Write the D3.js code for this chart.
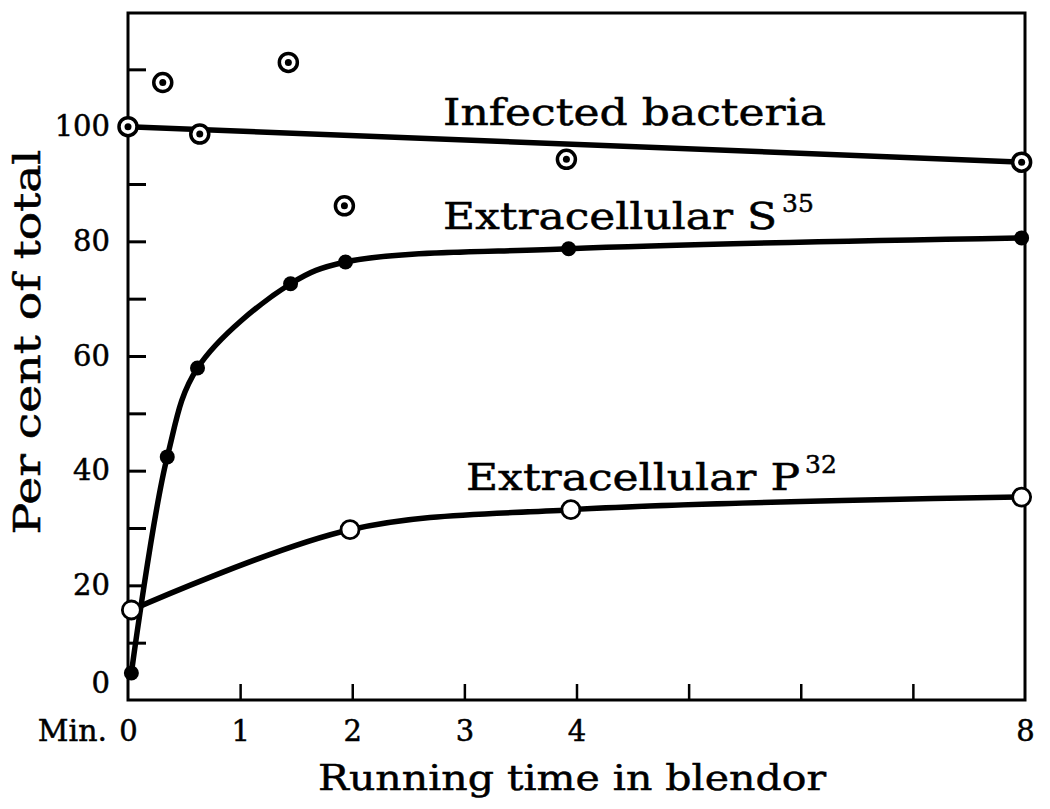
<!DOCTYPE html>
<html>
<head>
<meta charset="utf-8">
<script src="https://cdn.jsdelivr.net/npm/d3@7"></script>
<style>
  body { margin: 0; background: #fff; }
  text { font-family: "DejaVu Serif", serif; fill: #000; stroke: #000; stroke-width: 0.5px; }
</style>
</head>
<body>
<div id="chart"></div>
<script>
// values: minutes in blendor, per cent of total
var infectedTime = [0, 0.31, 0.64, 1.43, 1.93, 3.91, 7.97],
    infectedPct  = [100, 107.7, 98.7, 111.2, 86.2, 94.3, 93.8];
var infectedFitTime = [0, 8],
    infectedFitPct  = [100, 93.8];
var s35Time = [0.03, 0.35, 0.62, 1.45, 1.94, 3.93, 7.97],
    s35Pct  = [4.7, 42.4, 57.9, 72.6, 76.4, 78.7, 80.6];
var p32Time = [0.03, 1.98, 3.95, 7.97],
    p32Pct  = [15.7, 29.7, 33.2, 35.4];

var xTicks = [1, 2, 3, 4, 5, 6, 7],
    xTickLabels = [0, 1, 2, 3, 4, 8];
var yTicks = [10, 20, 30, 40, 50, 60, 70, 80, 90, 100, 110],
    yTickLabels = [0, 20, 40, 60, 80, 100];

var W = 1050, H = 809;
var margin = { top: 13, right: 25, bottom: 109, left: 128 };

function zip(a, b) { return a.map(function(d, i) { return [d, b[i]]; }); }
function translation(x, y) { return 'translate(' + x + ',' + y + ')'; }

var x = d3.scaleLinear().domain([0, 8]).range([margin.left, W - margin.right]);
var y = d3.scaleLinear().domain([0, 120]).range([H - margin.bottom, 12]);

var svg = d3.select('#chart').append('svg')
    .attr('width', W)
    .attr('height', H);

// frame
svg.append('rect')
    .attr('x', x(0)).attr('y', margin.top)
    .attr('width', x(8) - x(0)).attr('height', y(0) - margin.top)
    .attr('fill', 'none').attr('stroke', '#000').attr('stroke-width', 3);

// inward ticks
var xTickAxis = svg.append('g')
    .attr('transform', translation(0, y(0)))
    .call(d3.axisTop(x).tickValues(xTicks).tickSize(16).tickFormat(''));
xTickAxis.select('.domain').remove();
xTickAxis.selectAll('line').attr('stroke-width', 2.5);

var yTickAxis = svg.append('g')
    .attr('transform', translation(x(0), 0))
    .call(d3.axisRight(y).tickValues(yTicks).tickSize(18).tickFormat(''));
yTickAxis.select('.domain').remove();
yTickAxis.selectAll('line').attr('stroke-width', 3);

// tick labels
var xLab = svg.append('g')
    .attr('transform', translation(0, y(0)))
    .call(d3.axisBottom(x).tickValues(xTickLabels).tickSize(0).tickPadding(20).tickFormat(d3.format('d')));
xLab.select('.domain').remove();
xLab.selectAll('text').style('font-size', '29px').style('font-family', '"DejaVu Serif", serif');

var yLab = svg.append('g')
    .attr('transform', translation(x(0), 0))
    .call(d3.axisLeft(y).tickValues(yTickLabels).tickSize(0).tickPadding(18).tickFormat(d3.format('d')));
yLab.select('.domain').remove();
yLab.selectAll('text').style('font-size', '29px').style('font-family', '"DejaVu Serif", serif');
yLab.selectAll('.tick').filter(function(d) { return d === 0; })
    .select('text').attr('y', -17);

svg.append('text')
    .attr('x', 107).attr('y', y(0) + 41)
    .attr('text-anchor', 'end')
    .style('font-size', '30px')
    .text('Min.');

// axis titles
svg.append('text')
    .attr('x', 572).attr('y', 790)
    .attr('text-anchor', 'middle')
    .attr('textLength', 508).attr('lengthAdjust', 'spacingAndGlyphs')
    .style('font-size', '36px')
    .text('Running time in blendor');

svg.append('text')
    .attr('transform', translation(40, 342) + ' rotate(-90)')
    .attr('text-anchor', 'middle')
    .attr('textLength', 385).attr('lengthAdjust', 'spacingAndGlyphs')
    .style('font-size', '37px')
    .text('Per cent of total');

// curves
var line = d3.line()
    .x(function(d) { return x(d[0]); })
    .y(function(d) { return y(d[1]); });
var smooth = d3.line()
    .x(function(d) { return x(d[0]); })
    .y(function(d) { return y(d[1]); })
    .curve(d3.curveCatmullRom.alpha(0.5));

svg.append('path')
    .attr('d', line(zip(infectedFitTime, infectedFitPct)))
    .attr('fill', 'none').attr('stroke', '#000').attr('stroke-width', 5.5);
svg.append('path')
    .attr('d', smooth(zip(s35Time, s35Pct)))
    .attr('fill', 'none').attr('stroke', '#000').attr('stroke-width', 5.5);
svg.append('path')
    .attr('d', smooth(zip(p32Time, p32Pct)))
    .attr('fill', 'none').attr('stroke', '#000').attr('stroke-width', 5.5);

// markers
var inf = svg.append('g').selectAll('g')
    .data(zip(infectedTime, infectedPct))
    .enter().append('g')
    .attr('transform', function(d) { return translation(x(d[0]), y(d[1])); });
inf.append('circle').attr('r', 9).attr('fill', '#fff').attr('stroke', '#000').attr('stroke-width', 3.5);
inf.append('circle').attr('r', 3.5).attr('fill', '#000');

svg.append('g').selectAll('circle')
    .data(zip(s35Time, s35Pct))
    .enter().append('circle')
    .attr('cx', function(d) { return x(d[0]); })
    .attr('cy', function(d) { return y(d[1]); })
    .attr('r', 7.5).attr('fill', '#000');

svg.append('g').selectAll('circle')
    .data(zip(p32Time, p32Pct))
    .enter().append('circle')
    .attr('cx', function(d) { return x(d[0]); })
    .attr('cy', function(d) { return y(d[1]); })
    .attr('r', 9).attr('fill', '#fff').attr('stroke', '#000').attr('stroke-width', 2.8);

// series labels
function seriesLabel(px, py, len, main, sup) {
  var t = svg.append('text').attr('x', px).attr('y', py).style('font-size', '38px');
  t.append('tspan').attr('textLength', len).attr('lengthAdjust', 'spacingAndGlyphs').text(main);
  if (sup) {
    t.append('tspan').attr('dx', 5).attr('dy', -17).style('font-size', '25px').text(sup);
  }
}
seriesLabel(443, 125, 383, 'Infected bacteria');
seriesLabel(443, 229, 334, 'Extracellular S', '35');
seriesLabel(466, 490, 334, 'Extracellular P', '32');
</script>
</body>
</html>
